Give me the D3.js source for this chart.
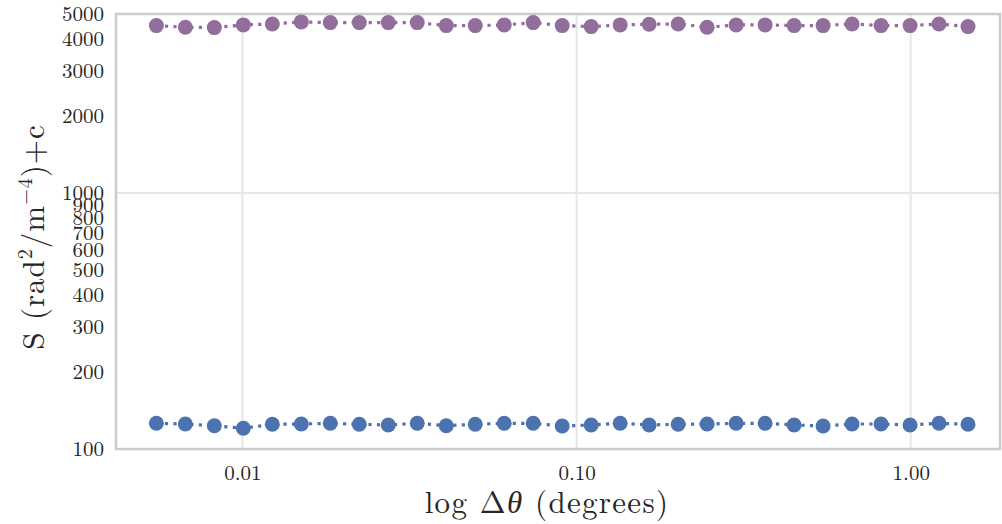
<!DOCTYPE html>
<html>
<head>
<meta charset="utf-8">
<script src="https://cdn.jsdelivr.net/npm/d3@7"></script>
<style>
  html, body { margin: 0; padding: 0; background: #fff; }
  svg { display: block; }
  text { font-family: "Latin Modern Roman", "CMU Serif", "Liberation Serif", serif; fill: #262626; }
</style>
</head>
<body>
<svg id="chart" width="1002" height="524"></svg>
<script>
// Angular separation (degrees)
const dtheta = [0.005528, 0.006750, 0.008241, 0.010063, 0.012289, 0.015003, 0.018323,
  0.022374, 0.027319, 0.033359, 0.040738, 0.049740, 0.060740, 0.074164, 0.090573,
  0.110589, 0.135050, 0.164893, 0.201372, 0.245859, 0.300262, 0.366605, 0.447713,
  0.546636, 0.667574, 0.815088, 0.995405, 1.2152, 1.4841];

// Structure function, lower curve
const sLow = [126.0, 125.2, 123.3, 120.5, 124.9, 125.2, 126.0, 124.9, 124.1, 126.0,
  123.3, 124.9, 126.0, 126.0, 123.0, 124.1, 126.0, 124.1, 124.9, 125.2, 126.0, 126.0,
  124.1, 123.0, 125.2, 125.2, 124.1, 126.0, 124.9];

// Structure function plus offset, upper curve
const sHigh = [4505, 4440, 4424, 4532, 4571, 4656, 4627, 4627, 4627, 4627, 4505, 4505,
  4532, 4627, 4505, 4464, 4532, 4560, 4571, 4440, 4532, 4532, 4505, 4505, 4571, 4505,
  4505, 4571, 4464];

const xMajorTicks = [0.01, 0.1, 1];
const xTickLabels = ["0.01", "0.10", "1.00"];
const yMajorTicks = [100, 1000];
const yMinorTicks = [200, 300, 400, 500, 600, 700, 800, 900, 2000, 3000, 4000, 5000];

const colors = { low: "#4c72b0", high: "#926e9c" };

const margin = { left: 116, right: 1000, top: 14, bottom: 449 };

const svg = d3.select("#chart");

const x = d3.scaleLog().domain([0.004185, 1.85]).range([margin.left, margin.right]);
const y = d3.scaleLog().domain([100, 5000]).range([margin.bottom, margin.top]);

// Grid lines at major ticks
const grid = svg.append("g");
grid.selectAll("line.vx").data(xMajorTicks).join("line")
  .attr("x1", d => x(d)).attr("x2", d => x(d))
  .attr("y1", margin.top).attr("y2", margin.bottom)
  .attr("stroke", "#e6e6e6").attr("stroke-width", 2);
grid.selectAll("line.hy").data(yMajorTicks).join("line")
  .attr("x1", margin.left).attr("x2", margin.right)
  .attr("y1", d => y(d)).attr("y2", d => y(d))
  .attr("stroke", "#e6e6e6").attr("stroke-width", 2);

// Frame
svg.append("rect")
  .attr("x", margin.left).attr("y", margin.top)
  .attr("width", margin.right - margin.left).attr("height", margin.bottom - margin.top)
  .attr("fill", "none").attr("stroke", "#cccccc").attr("stroke-width", 2.5);

// X axis labels
const xAxis = d3.axisBottom(x).tickValues(xMajorTicks)
  .tickFormat((d, i) => xTickLabels[i]).tickSize(0).tickPadding(16);
svg.append("g").attr("transform", `translate(0,${margin.bottom})`).call(xAxis)
  .call(g => g.select(".domain").remove())
  .call(g => g.selectAll("text").attr("font-size", 21)
    .attr("font-family", '"Latin Modern Roman", "CMU Serif", "Liberation Serif", serif')
    .attr("fill", "#262626"));

// Y axis labels: majors and minors
const yAxis = d3.axisLeft(y).tickValues(yMajorTicks.concat(yMinorTicks))
  .tickFormat(d3.format("d")).tickSize(0).tickPadding(12);
svg.append("g").attr("transform", `translate(${margin.left},0)`).call(yAxis)
  .call(g => g.select(".domain").remove())
  .call(g => g.selectAll("text").attr("font-size", 21)
    .attr("font-family", '"Latin Modern Roman", "CMU Serif", "Liberation Serif", serif')
    .attr("fill", "#262626"));

// Series
function drawSeries(values, color) {
  const pts = dtheta.map((d, i) => [d, values[i]]);
  const line = d3.line().x(d => x(d[0])).y(d => y(d[1]));
  svg.append("path").datum(pts)
    .attr("d", line).attr("fill", "none")
    .attr("stroke", color).attr("stroke-width", 3.2)
    .attr("stroke-dasharray", "3.2,5.3");
  svg.append("g").selectAll("circle").data(pts).join("circle")
    .attr("cx", d => x(d[0])).attr("cy", d => y(d[1]))
    .attr("r", 7.5).attr("fill", color);
}
drawSeries(sLow, colors.low);
drawSeries(sHigh, colors.high);

// Axis titles
const xt = svg.append("text")
  .attr("x", 547).attr("y", 513)
  .attr("text-anchor", "middle").attr("font-size", 31)
  .attr("letter-spacing", 1.3);
xt.append("tspan").text("log Δ");
xt.append("tspan").attr("font-style", "italic").text("θ");
xt.append("tspan").text(" (degrees)");

const yt = svg.append("text")
  .attr("transform", "translate(44,237) rotate(-90)")
  .attr("text-anchor", "middle").attr("font-size", 31)
  .attr("letter-spacing", 1);
yt.append("tspan").text("S (rad");
yt.append("tspan").attr("font-size", 20).attr("dy", -12).text("2");
yt.append("tspan").attr("dy", 12).text("/m");
yt.append("tspan").attr("font-size", 20).attr("dy", -12).text("−4");
yt.append("tspan").attr("dy", 12).text(")+c");
</script>
</body>
</html>
